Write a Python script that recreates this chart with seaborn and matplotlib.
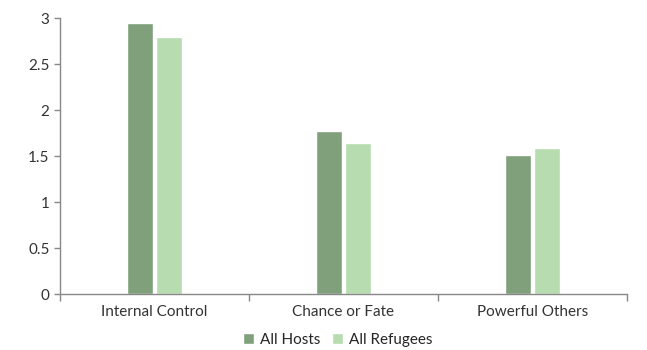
import pandas as pd
import seaborn as sns
import matplotlib.pyplot as plt
from matplotlib.ticker import FixedLocator

# Chart data
categories = ['Internal Control', 'Chance or Fate', 'Powerful Others']
hosts = [2.95, 1.77, 1.51]
refugees = [2.79, 1.64, 1.59]
groups = ['All Hosts', 'All Refugees']
colors = ['#7fa07a', '#b7dcaf']

df = pd.DataFrame({
    'category': categories * 2,
    'value': hosts + refugees,
    'group': [groups[0]] * 3 + [groups[1]] * 3,
})

sns.set_style('white')
plt.rcParams['font.family'] = ['Lato', 'DejaVu Sans']
plt.rcParams['font.size'] = 11

fig = plt.figure(figsize=(6.47, 3.5), dpi=100)
ax = fig.add_axes([60 / 647, 1 - 294 / 350, 567 / 647, 276 / 350])

sns.barplot(data=df, x='category', y='value', hue='group', palette=colors,
            width=0.31, gap=0.12, ax=ax, saturation=1)

ax.set_xlim(-0.5, 2.5)
ax.set_ylim(0, 3)
ax.set_yticks([0, 0.5, 1, 1.5, 2, 2.5, 3])
ax.set_yticklabels(['0', '0.5', '1', '1.5', '2', '2.5', '3'])
ax.set_xlabel('')
ax.set_ylabel('')

# ticks at category boundaries, labels centered
ax.xaxis.set_minor_locator(FixedLocator([-0.5, 0.5, 1.5, 2.5]))
ax.tick_params(axis='x', which='major', bottom=False, length=0, pad=8,
               labelsize=11, colors='#333333')
ax.tick_params(axis='x', which='minor', bottom=True, direction='out',
               length=5, width=1, color='#888888')
ax.tick_params(axis='y', left=True, direction='out', length=4, width=1,
               color='#888888', labelsize=11, labelcolor='#333333')

for s in ['top', 'right']:
    ax.spines[s].set_visible(False)
for s in ['left', 'bottom']:
    ax.spines[s].set_color('#888888')
    ax.spines[s].set_linewidth(1)

ax.legend(loc='center', bbox_to_anchor=(0.49, -0.167), ncol=2, frameon=False,
          handlelength=0.7, handleheight=0.7, handletextpad=0.4, columnspacing=0.8,
          fontsize=11, borderaxespad=0)

fig.savefig('out.png', dpi=100)
